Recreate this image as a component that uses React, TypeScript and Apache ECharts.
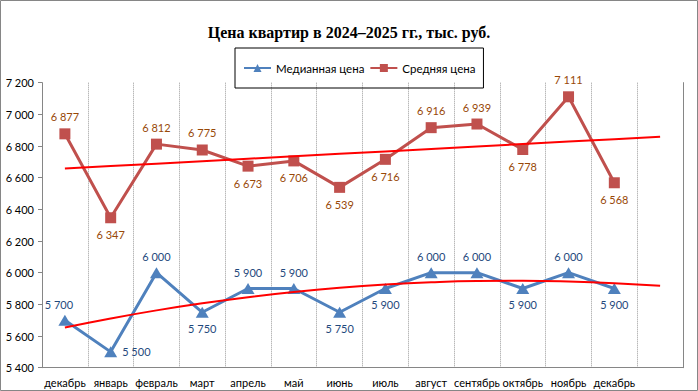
import React, { useEffect, useRef } from "react";
import * as echarts from "echarts";

const categories = [
  "декабрь", "январь", "февраль", "март", "апрель", "май", "июнь",
  "июль", "август", "сентябрь", "октябрь", "ноябрь", "декабрь", "",
];
const medianPrice = [5700, 5500, 6000, 5750, 5900, 5900, 5750, 5900, 6000, 6000, 5900, 6000, 5900];
const meanPrice = [6877, 6347, 6812, 6775, 6673, 6706, 6539, 6716, 6916, 6939, 6778, 7111, 6568];
const medianLabelPos = ["top", "right", "top", "bottom", "top", "top", "bottom", "bottom", "top", "top", "bottom", "top", "bottom"];
const meanLabelPos = ["top", "bottom", "top", "top", "bottom", "bottom", "bottom", "bottom", "top", "top", "bottom", "top", "bottom"];
const yMin = 5400;
const yMax = 7200;
const yStep = 200;

const FONT = "Lato, 'Noto Sans', sans-serif";

// Least-squares polynomial trendline (as Excel draws it), forecast one period forward
function trend(values: number[], degree: number, count: number): number[] {
  const n = degree + 1;
  const A: number[][] = Array.from({ length: n }, () => new Array(n + 1).fill(0));
  values.forEach((y, i) => {
    const x = i + 1;
    for (let r = 0; r < n; r++) {
      for (let c = 0; c < n; c++) A[r][c] += Math.pow(x, r + c);
      A[r][n] += y * Math.pow(x, r);
    }
  });
  for (let i = 0; i < n; i++) {
    let p = i;
    for (let r = i + 1; r < n; r++) if (Math.abs(A[r][i]) > Math.abs(A[p][i])) p = r;
    [A[i], A[p]] = [A[p], A[i]];
    for (let r = 0; r < n; r++) {
      if (r === i) continue;
      const f = A[r][i] / A[i][i];
      for (let c = i; c <= n; c++) A[r][c] -= f * A[i][c];
    }
  }
  const coef = A.map((row, i) => row[n] / row[i]);
  return Array.from({ length: count }, (_, i) => {
    const x = i + 1;
    return coef.reduce((s, a, k) => s + a * Math.pow(x, k), 0);
  });
}

const fmt = (v: number) => {
  const t = Math.floor(v / 1000);
  const r = Math.round(v % 1000);
  return t > 0 ? `${t} ${String(r).padStart(3, "0")}` : String(r);
};

export default function App() {
  const ref = useRef<HTMLDivElement>(null);
  useEffect(() => {
    if (!ref.current) return;
    const chart = echarts.init(ref.current, undefined, { renderer: "svg" });
    const medianTrend = trend(medianPrice, 2, categories.length);
    const meanTrend = trend(meanPrice, 1, categories.length);
    chart.setOption({
      animation: false,
      backgroundColor: "#ffffff",
      title: {
        text: "Цена квартир в 2024–2025 гг., тыс. руб.",
        left: "center",
        top: 19,
        textStyle: {
          fontFamily: "'Liberation Serif', 'Times New Roman', serif",
          fontSize: 16,
          fontWeight: "bold",
          color: "#000",
        },
      },
      legend: {
        data: ["Медианная цена", "Средняя цена"],
        left: 235,
        top: 48,
        padding: [14, 8, 14, 8],
        itemGap: 5,
        itemWidth: 27,
        itemHeight: 10,
        borderColor: "#000",
        borderWidth: 1,
        textStyle: { fontFamily: FONT, fontSize: 11.5, color: "#000" },
      },
      grid: { left: 42, right: 15, top: 82.7, bottom: 23.3, containLabel: false },
      xAxis: {
        type: "category",
        data: categories,
        boundaryGap: true,
        axisLine: { show: true, lineStyle: { color: "#868686", width: 1 } },
        axisTick: { show: false },
        axisLabel: { interval: 0, margin: 9, fontFamily: FONT, fontSize: 11, color: "#000" },
        splitLine: { show: true, lineStyle: { type: "dotted", color: "#9a9a9a", width: 1 } },
      },
      yAxis: [
        {
          type: "value",
          min: yMin,
          max: yMax,
          interval: yStep,
          axisLine: { show: true, lineStyle: { color: "#868686", width: 1 } },
          axisTick: { show: true, length: 4, lineStyle: { color: "#868686" } },
          axisLabel: { margin: 8, fontFamily: FONT, fontSize: 11, color: "#000", formatter: (v: number) => fmt(v) },
          splitLine: { show: false },
        },
        {
          type: "value",
          min: yMin,
          max: yMax,
          interval: yStep,
          position: "right",
          axisLine: { show: true, lineStyle: { color: "#868686", width: 1 } },
          axisTick: { show: false },
          axisLabel: { show: false },
          splitLine: { show: false },
        },
      ],
      series: [
        {
          name: "Медианная цена",
          type: "line",
          data: medianPrice.map((v, i) => ({
            value: v,
            label: { position: medianLabelPos[i], offset: i === 0 ? [-6, 0] : [0, 0] },
          })),
          symbol: "triangle",
          symbolSize: [13, 11],
          lineStyle: { color: "#4F81BD", width: 3 },
          itemStyle: { color: "#4F81BD" },
          label: {
            show: true,
            distance: 5,
            fontFamily: FONT,
            fontSize: 11,
            color: "#1F497D",
            formatter: (p: any) => fmt(p.value),
          },
          z: 3,
        },
        {
          name: "Средняя цена",
          type: "line",
          data: meanPrice.map((v, i) => ({ value: v, label: { position: meanLabelPos[i] } })),
          symbol: "rect",
          symbolSize: 11,
          lineStyle: { color: "#C0504D", width: 3 },
          itemStyle: { color: "#C0504D" },
          label: {
            show: true,
            distance: 6,
            fontFamily: FONT,
            fontSize: 11,
            color: "#984807",
            formatter: (p: any) => fmt(p.value),
          },
          z: 3,
        },
        {
          name: "trend-median",
          type: "line",
          data: medianTrend,
          symbol: "none",
          smooth: true,
          silent: true,
          lineStyle: { color: "#FF0000", width: 2 },
          z: 4,
        },
        {
          name: "trend-mean",
          type: "line",
          data: meanTrend,
          symbol: "none",
          silent: true,
          lineStyle: { color: "#FF0000", width: 2 },
          z: 4,
        },
      ],
      graphic: [
        {
          type: "rect",
          shape: { x: 0.5, y: 0.5, width: 697, height: 390 },
          style: { fill: "none", stroke: "#868686", lineWidth: 1 },
          silent: true,
          z: 100,
        },
      ],
    });
    return () => chart.dispose();
  }, []);
  return (
    <div
      ref={ref}
      style={{ position: "fixed", left: 0, top: 0, width: 698, height: 391, background: "#fff" }}
    />
  );
}
